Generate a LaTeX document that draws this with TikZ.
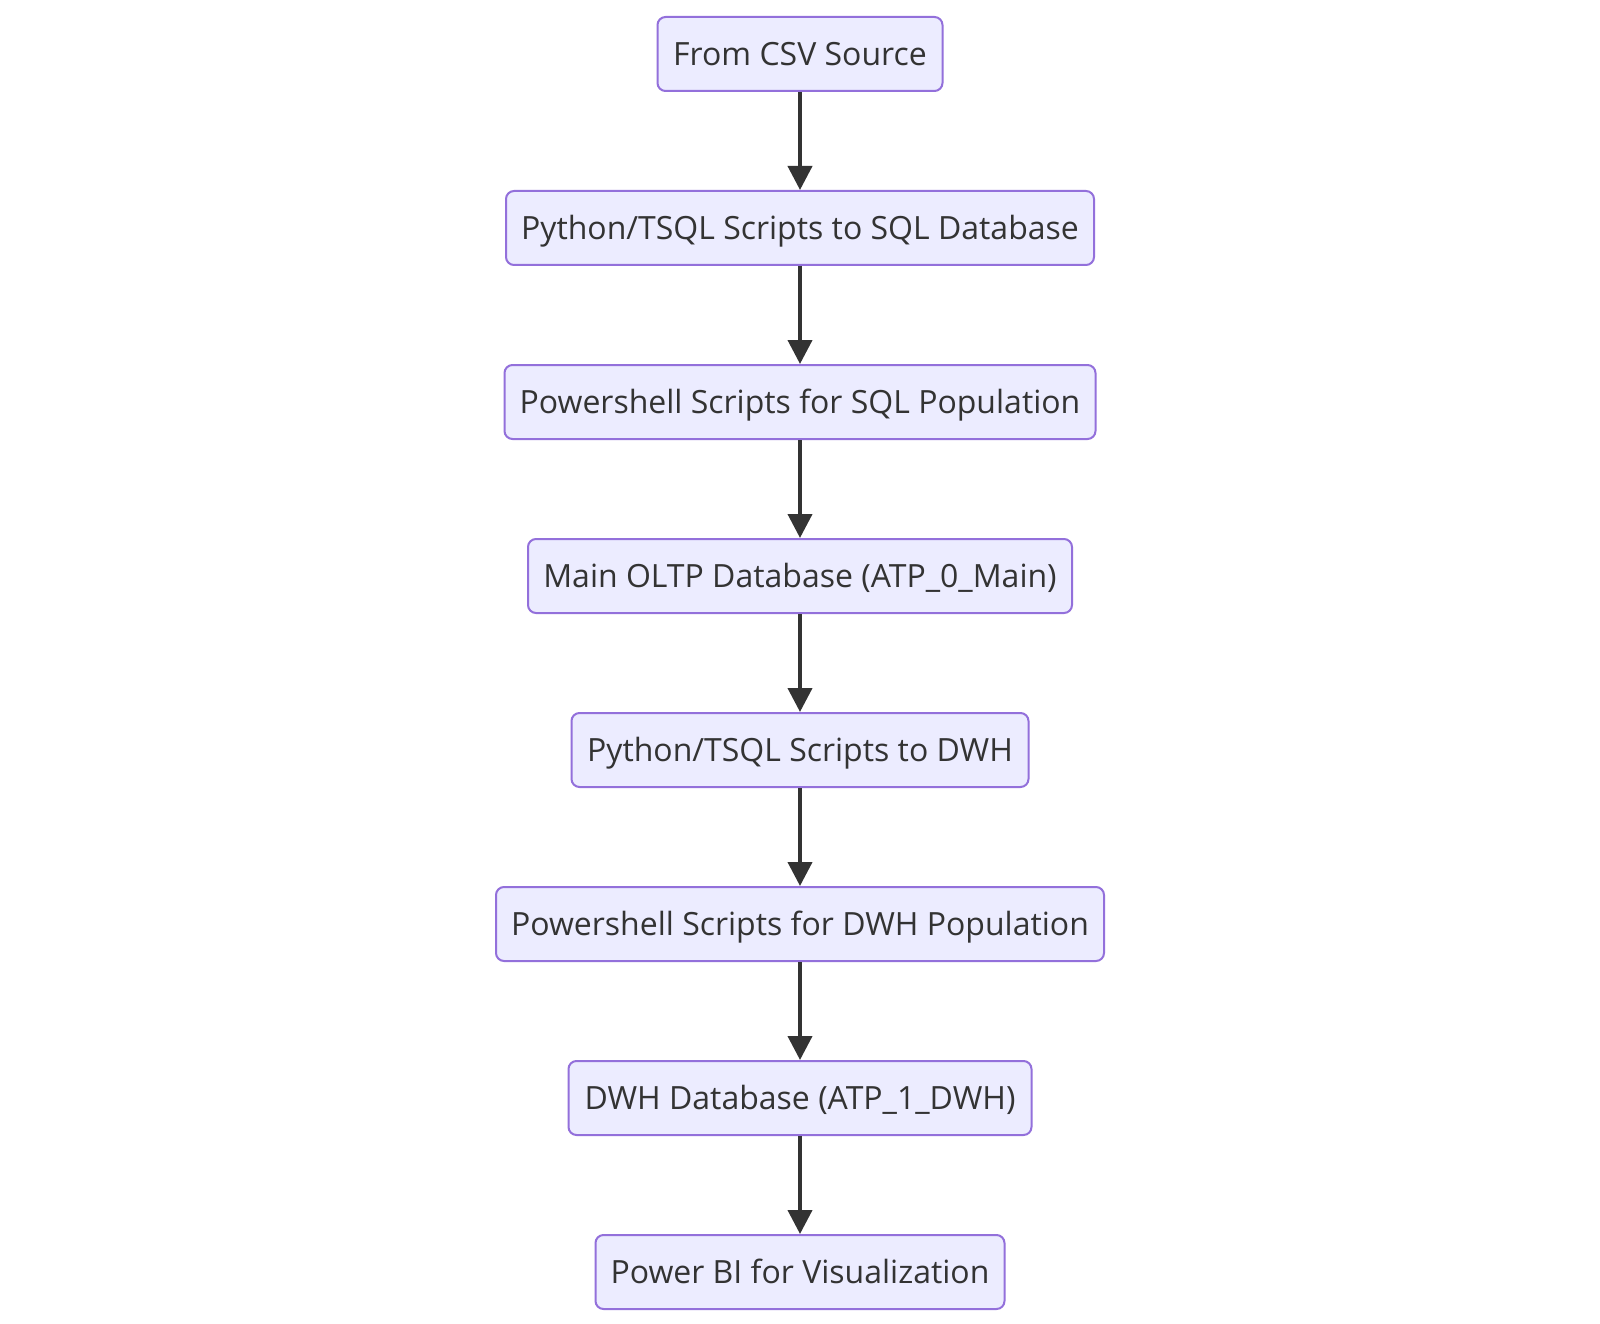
\documentclass[tikz,border=0pt]{standalone}
\usepackage{fontspec}
\setmainfont{Open Sans}
\usetikzlibrary{arrows.meta}
\definecolor{boxfill}{HTML}{ECECFF}
\definecolor{boxline}{HTML}{9370DB}
\definecolor{txt}{HTML}{333333}
\tikzset{
  flowbox/.style={draw=boxline, fill=boxfill, line width=2pt, rounded corners=8pt,
    minimum height=74pt, inner sep=0pt, text height=29pt, text depth=6.4pt,
    text=txt, font=\fontsize{32}{38}\selectfont, anchor=north},
  flowarrow/.style={draw=txt, line width=4pt, -{Triangle[length=24pt,width=24pt]}}
}
\begin{document}
\begin{tikzpicture}[x=1pt,y=1pt]
\useasboundingbox[fill=white] (0,0) rectangle (1600,-1324);
\node[flowbox, minimum width=285pt] (a) at (800,-16) {From CSV Source};
\node[flowbox, minimum width=588pt] (b) at (800,-190) {Python/TSQL Scripts to SQL Database};
\node[flowbox, minimum width=591pt] (c) at (800,-364) {Powershell Scripts for SQL Population};
\node[flowbox, minimum width=544pt] (d) at (800,-538) {Main OLTP Database (ATP\_0\_Main)};
\node[flowbox, minimum width=457pt] (e) at (800,-712) {Python/TSQL Scripts to DWH};
\node[flowbox, minimum width=608pt] (f) at (800,-886) {Powershell Scripts for DWH Population};
\node[flowbox, minimum width=463pt] (g) at (800,-1060) {DWH Database (ATP\_1\_DWH)};
\node[flowbox, minimum width=409pt] (h) at (800,-1234) {Power BI for Visualization};
\draw[flowarrow] (a) -- (b);
\draw[flowarrow] (b) -- (c);
\draw[flowarrow] (c) -- (d);
\draw[flowarrow] (d) -- (e);
\draw[flowarrow] (e) -- (f);
\draw[flowarrow] (f) -- (g);
\draw[flowarrow] (g) -- (h);
\end{tikzpicture}
\end{document}
